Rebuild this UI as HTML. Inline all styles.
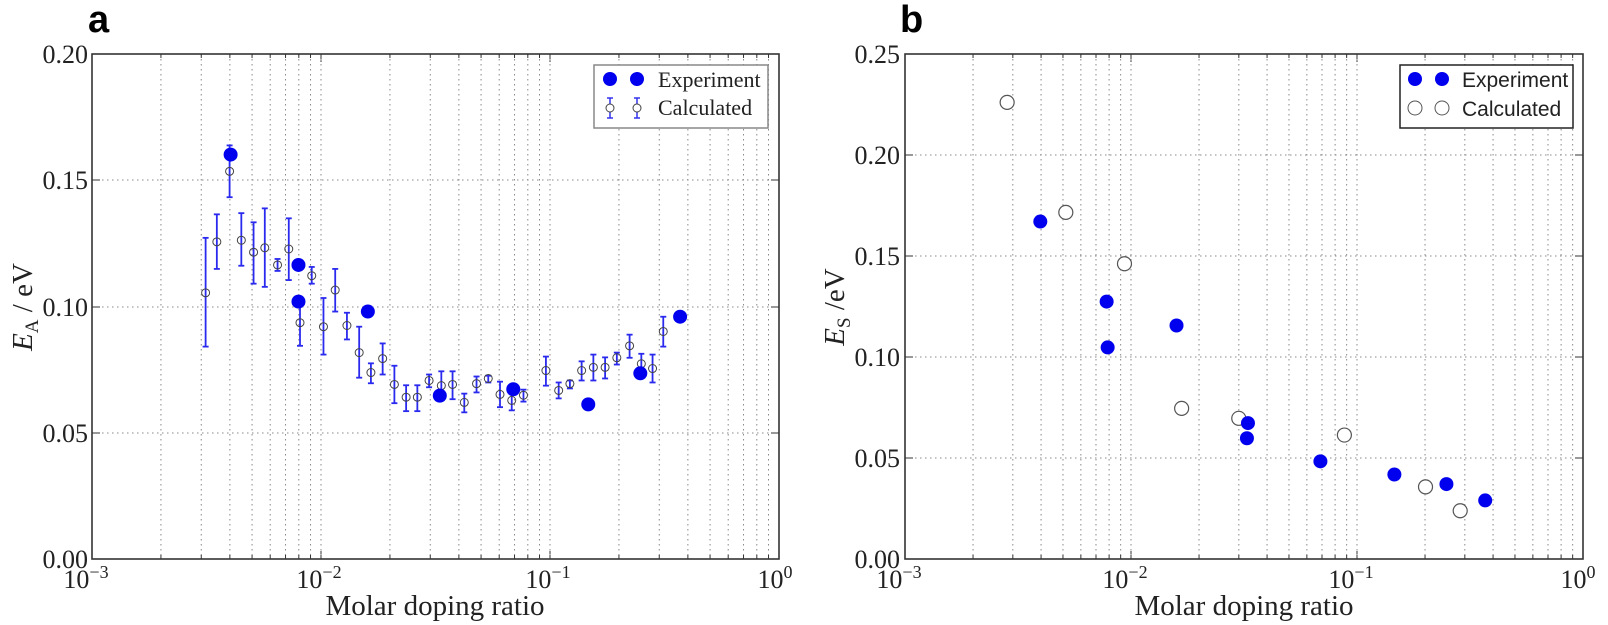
<!DOCTYPE html>
<html><head><meta charset="utf-8"><style>
body{margin:0;background:#fff;}
svg{display:block;}
text{font-family:"Liberation Serif",serif;fill:#222;}
</style></head><body>
<svg id="s" width="1608" height="625" xmlns="http://www.w3.org/2000/svg">
<g id="g"></g>
<text x="88" y="32" style="font-family:'Liberation Sans',sans-serif;font-weight:bold;font-size:38px;fill:#000">a</text>
<text x="900" y="32" style="font-family:'Liberation Sans',sans-serif;font-weight:bold;font-size:38px;fill:#000">b</text>
<g font-size="26" text-anchor="end">
<text x="88" y="63">0.20</text><text x="88" y="189">0.15</text><text x="88" y="316">0.10</text><text x="88" y="442">0.05</text><text x="88" y="568">0.00</text>
<text x="900" y="63">0.25</text><text x="900" y="164">0.20</text><text x="900" y="265">0.15</text><text x="900" y="366">0.10</text><text x="900" y="467">0.05</text><text x="900" y="568">0.00</text>
</g>
<g font-size="26" text-anchor="middle">
<text x="86" y="588">10<tspan dy="-10" font-size="18">−3</tspan></text>
<text x="319" y="588">10<tspan dy="-10" font-size="18">−2</tspan></text>
<text x="548" y="588">10<tspan dy="-10" font-size="18">−1</tspan></text>
<text x="775" y="588">10<tspan dy="-10" font-size="18">0</tspan></text>
<text x="899" y="588">10<tspan dy="-10" font-size="18">−3</tspan></text>
<text x="1125" y="588">10<tspan dy="-10" font-size="18">−2</tspan></text>
<text x="1351" y="588">10<tspan dy="-10" font-size="18">−1</tspan></text>
<text x="1578" y="588">10<tspan dy="-10" font-size="18">0</tspan></text>
</g>
<g font-size="29" text-anchor="middle">
<text x="435" y="615">Molar doping ratio</text>
<text x="1244" y="615">Molar doping ratio</text>
<text transform="translate(32,307) rotate(-90)"><tspan font-style="italic">E</tspan><tspan font-size="19" dy="6">A</tspan><tspan dy="-6"> / eV</tspan></text>
<text transform="translate(844,307) rotate(-90)"><tspan font-style="italic">E</tspan><tspan font-size="19" dy="6">S</tspan><tspan dy="-6"> /eV</tspan></text>
</g>
<rect x="594" y="65" width="174" height="63" fill="#fff" stroke="#888" stroke-width="1.5"/>
<circle cx="610" cy="79" r="7" fill="#0000ee"/><circle cx="637" cy="79" r="7" fill="#0000ee"/>
<text x="658" y="87" font-size="22">Experiment</text>
<g stroke="#3333ee" stroke-width="1.5"><line x1="610" y1="98" x2="610" y2="118"/><line x1="607" y1="98" x2="613" y2="98"/><line x1="607" y1="118" x2="613" y2="118"/>
<line x1="637" y1="98" x2="637" y2="118"/><line x1="634" y1="98" x2="640" y2="98"/><line x1="634" y1="118" x2="640" y2="118"/></g>
<circle cx="610" cy="108" r="4" fill="#fff" stroke="#444"/><circle cx="637" cy="108" r="4" fill="#fff" stroke="#444"/>
<text x="658" y="115" font-size="22">Calculated</text>
<rect x="1400" y="65" width="173" height="63" fill="#fff" stroke="#222" stroke-width="1.5"/>
<circle cx="1415" cy="79" r="7" fill="#0000ee"/><circle cx="1442" cy="79" r="7" fill="#0000ee"/>
<text x="1462" y="87" font-size="21" style="font-family:'Liberation Sans',sans-serif">Experiment</text>
<circle cx="1415" cy="108" r="7" fill="#fff" stroke="#555"/><circle cx="1442" cy="108" r="7" fill="#fff" stroke="#555"/>
<text x="1462" y="116" font-size="21" style="font-family:'Liberation Sans',sans-serif">Calculated</text>
</svg>
<script>
var g=document.getElementById('g'),h='';
function grid(L,R,T,B,ys){
 var d=(R-L)/3;
 for(var k=0;k<3;k++)for(var m=1;m<=10;m++){var x=L+d*(k+Math.log10(m));if(x<=L+0.5||x>=R-0.5)continue;
  h+='<line x1="'+x+'" y1="'+T+'" x2="'+x+'" y2="'+B+'" stroke="#888" stroke-width="1" stroke-dasharray="1.5,3.5"/>';
  h+='<line x1="'+x+'" y1="'+B+'" x2="'+x+'" y2="'+(B-(m==10?8:4))+'" stroke="#333"/>';h+='<line x1="'+x+'" y1="'+T+'" x2="'+x+'" y2="'+(T+(m==10?8:4))+'" stroke="#333"/>';}
 ys.forEach(function(y){h+='<line x1="'+L+'" y1="'+y+'" x2="'+R+'" y2="'+y+'" stroke="#888" stroke-dasharray="1.5,3.5"/><line x1="'+L+'" y1="'+y+'" x2="'+(L+8)+'" y2="'+y+'" stroke="#333"/><line x1="'+R+'" y1="'+y+'" x2="'+(R-8)+'" y2="'+y+'" stroke="#333"/>';});
 h+='<rect x="'+L+'" y="'+T+'" width="'+(R-L)+'" height="'+(B-T)+'" fill="none" stroke="#333" stroke-width="1.6"/>';
}
grid(92,779,54,559,[180,307,433]);
grid(905,1583,54,559,[155,256,357,458]);
var sx=1/1.96,sy=1/2.51;
var ca=[[403,735,597,870],[425,607,538,675],[450,430,365,495],[473,603,535,667],[497,633,558,712],[519,622,523,720],[544,665,650,680],[566,625,548,703],[588,810,750,868],[611,692,670,712],[634,820,748,890],[657,728,675,782],[680,817,785,852],[704,885,820,948],[727,935,912,962],[750,900,862,940],[773,965,918,1012],[796,997,967,1032],[818,997,967,1032],[841,955,940,972],[865,968,932,1005],[887,965,932,1002],[910,1010,988,1035],[934,963,945,985],[957,950,943,960],[980,990,958,1022],[1003,1005,975,1030],[1026,992,978,1008],[1070,930,895,968],[1095,980,960,1000],[1117,963,955,975],[1140,930,907,955],[1163,922,890,955],[1186,922,897,950],[1209,898,885,915],[1234,868,840,898],[1257,913,888,945],[1279,925,890,960],[1300,832,795,870]];
ca.forEach(function(p){var x=p[0]*sx,y=p[1]*sy,t=p[2]*sy,b=p[3]*sy;
 h+='<g stroke="#2a2aee" stroke-width="1.8"><line x1="'+x+'" y1="'+t+'" x2="'+x+'" y2="'+b+'"/><line x1="'+(x-3)+'" y1="'+t+'" x2="'+(x+3)+'" y2="'+t+'"/><line x1="'+(x-3)+'" y1="'+b+'" x2="'+(x+3)+'" y2="'+b+'"/></g>';
 h+='<circle cx="'+x+'" cy="'+y+'" r="4" fill="none" stroke="#444" stroke-width="1"/>';});
[[452,388],[585,665],[585,757],[721,782],[862,993],[1006,977],[1153,1015],[1255,937],[1333,795]].forEach(function(p){h+='<circle cx="'+p[0]*sx+'" cy="'+p[1]*sy+'" r="7" fill="#0000ee"/>';});
[[406,257],[521,533],[636,662],[748,1025],[860,1050],[1067,1092],[1226,1222],[1294,1282]].forEach(function(p){h+='<circle cx="'+(800+p[0]*sx)+'" cy="'+p[1]*sy+'" r="7" fill="#fff" stroke="#555" stroke-width="1.2"/>';});
[[471,556],[601,757],[603,872],[738,817],[878,1062],[876,1100],[1020,1158],[1165,1191],[1267,1215],[1343,1256]].forEach(function(p){h+='<circle cx="'+(800+p[0]*sx)+'" cy="'+p[1]*sy+'" r="7" fill="#0000ee"/>';});
g.innerHTML=h;
</script>
</body></html>
